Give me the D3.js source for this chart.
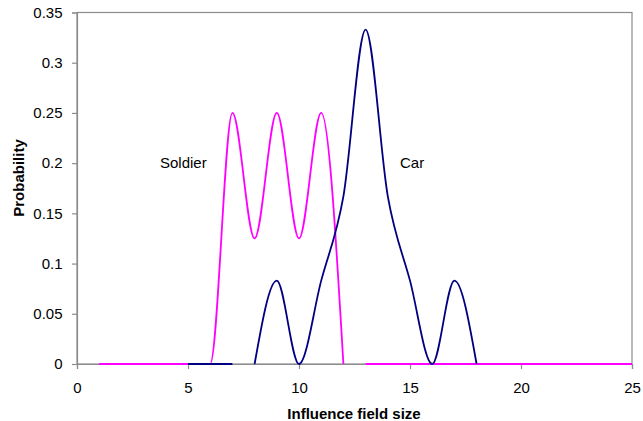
<!DOCTYPE html>
<html>
<head>
<meta charset="utf-8">
<script src="https://cdn.jsdelivr.net/npm/d3@7"></script>
<style>
  html, body { margin: 0; padding: 0; background: #fff; }
  svg { display: block; font-family: Arial, "Liberation Sans", sans-serif; }
</style>
</head>
<body>
<svg id="chart" width="643" height="421"></svg>
<script>
// ---- data ----
const xValues = [1,2,3,4,5,6,7,8,9,10,11,12,13,14,15,16,17,18,19,20,21,22,23,24,25];
const soldierValues = [0,0,0,0,0,0,0.25,0.125,0.25,0.125,0.25,0,0,0,0,0,0,0,0,0,0,0,0,0,0];
const carValues = [null,null,null,null,0,0,0,0,0.083,0,0.083,0.167,0.333,0.167,0.083,0,0.083,0,null,null,null,null,null,null,null];
// the line is broken after these x values (gaps in the original series)
const soldierBreaks = [12];
const carBreaks = [7];
const xTicks = [0,5,10,15,20,25];
const yTicks = [0,0.05,0.1,0.15,0.2,0.25,0.3,0.35];
const seriesNames = ["Soldier", "Car"];
const labelPositions = [[3.74, 0.2], [14.55, 0.2]];

const svg = d3.select("#chart");
const margin = {left: 77, right: 11, top: 12.5, bottom: 57};
const W = 643, H = 421;
const x = d3.scaleLinear().domain([0, 25]).range([margin.left, W - margin.right]);
const y = d3.scaleLinear().domain([0, 0.35]).range([H - margin.bottom, margin.top]);

// plot frame
svg.append("rect")
  .attr("x", x(0)).attr("y", y(0.35))
  .attr("width", x(25) - x(0)).attr("height", y(0) - y(0.35))
  .attr("fill", "none").attr("stroke", "#8c8c8c").attr("stroke-width", 1.2);

// axes
const xAxis = svg.append("g")
  .attr("transform", `translate(0,${y(0)})`)
  .call(d3.axisBottom(x).tickValues(xTicks).tickSize(5).tickPadding(13.5).tickFormat(d3.format("d")));
const yAxis = svg.append("g")
  .attr("transform", `translate(${x(0)},0)`)
  .call(d3.axisLeft(y).tickValues(yTicks).tickSize(5).tickPadding(9.5).tickFormat(d => d === 0 ? "0" : String(+d.toFixed(2))));
[xAxis, yAxis].forEach(g => {
  g.select(".domain").attr("stroke", "#8c8c8c").attr("stroke-width", 1.2);
  g.selectAll(".tick line").attr("stroke", "#8c8c8c").attr("stroke-width", 1.2);
  g.selectAll(".tick text").attr("fill", "#000").style("font-size", "15px").style("font-family", "Arial, 'Liberation Sans', sans-serif");
});

function segments(values, breaks) {
  const segs = [];
  let cur = [];
  xValues.forEach((xv, i) => {
    const v = values[i];
    if (v === null) { if (cur.length) segs.push(cur); cur = []; return; }
    cur.push([xv, v]);
    if (breaks.includes(xv)) { segs.push(cur); cur = []; }
  });
  if (cur.length) segs.push(cur);
  return segs;
}

const line = d3.line()
  .x(d => x(d[0])).y(d => y(d[1]))
  .curve(d3.curveMonotoneX);

const colors = ["#ff00ff", "#000080"];
[[soldierValues, soldierBreaks, colors[0]], [carValues, carBreaks, colors[1]]].forEach(([vals, br, col]) => {
  segments(vals, br).forEach(seg => {
    svg.append("path").datum(seg)
      .attr("d", line)
      .attr("fill", "none").attr("stroke", col).attr("stroke-width", 1.8)
      .attr("stroke-linejoin", "round");
  });
});

// series labels
seriesNames.forEach((n, i) => {
  svg.append("text")
    .attr("x", x(labelPositions[i][0])).attr("y", y(labelPositions[i][1]) + 4.5)
    .attr("font-size", 15).attr("fill", "#000")
    .text(n);
});

// axis titles
svg.append("text")
  .attr("x", 354).attr("y", 419)
  .attr("text-anchor", "middle").attr("font-size", 15).attr("font-weight", "bold")
  .text("Influence field size");
svg.append("text")
  .attr("transform", `translate(23.5,178) rotate(-90)`)
  .attr("text-anchor", "middle").attr("font-size", 15).attr("font-weight", "bold")
  .text("Probability");
</script>
</body>
</html>
